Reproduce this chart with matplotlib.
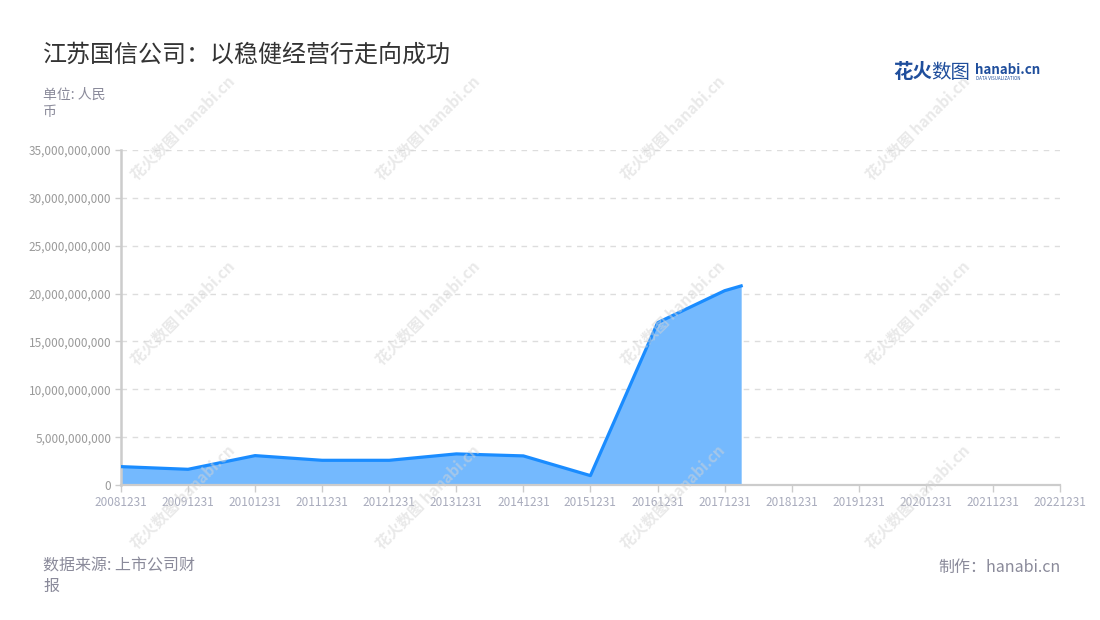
import matplotlib
matplotlib.use('Agg')
import matplotlib.pyplot as plt
import matplotlib.dates as mdates
import matplotlib.ticker as mticker
import pandas as pd

plt.rcParams['font.family'] = ['Noto Sans CJK SC', 'DejaVu Sans']

title = '江苏国信公司：以稳健经营行走向成功'
unit_label = '单位: 人民\n币'
source_label = '数据来源: 上市公司财\n报'
maker_label = '制作：hanabi.cn'

report_dates = ['20081231', '20091231', '20101231', '20111231', '20121231',
                '20131231', '20141231', '20151231', '20161231', '20171231',
                '20180331']
values = [1.92e9, 1.64e9, 3.07e9, 2.58e9, 2.58e9,
          3.25e9, 3.04e9, 0.98e9, 16.96e9, 20.3e9,
          20.8e9]
tick_dates = ['20081231', '20091231', '20101231', '20111231', '20121231',
              '20131231', '20141231', '20151231', '20161231', '20171231',
              '20181231', '20191231', '20201231', '20211231', '20221231']

x = pd.to_datetime(report_dates, format='%Y%m%d')
ticks = pd.to_datetime(tick_dates, format='%Y%m%d')

fig = plt.figure(figsize=(11, 6.2), dpi=100)
ax = fig.add_axes([121 / 1100, 1 - 485 / 620, (1060 - 121) / 1100, (485 - 150) / 620])

ax.fill_between(x, values, 0, color='#74b9fe', linewidth=0, zorder=2)
ax.plot(x, values, color='#1a8cff', linewidth=2.3, zorder=3, solid_joinstyle='round')

ax.set_xlim(ticks[0], ticks[-1])
ax.set_ylim(0, 35e9)
ax.set_xticks(ticks)
ax.xaxis.set_major_formatter(mdates.DateFormatter('%Y%m%d'))
ax.yaxis.set_major_locator(mticker.MultipleLocator(5e9))
ax.yaxis.set_major_formatter(mticker.FuncFormatter(lambda v, p: '{:,.0f}'.format(v)))

ax.grid(axis='y', color='#dddddd', linestyle=(0, (4, 4)), linewidth=1, zorder=0)
for s in ['top', 'right']:
    ax.spines[s].set_visible(False)
ax.spines['left'].set_color('#cccccc')
ax.spines['left'].set_linewidth(1.8)
ax.spines['bottom'].set_color('#cccccc')
ax.spines['bottom'].set_linewidth(1.6)
ax.tick_params(axis='y', colors='#cccccc', labelcolor='#9a9a9a', labelsize=8.5, length=4, width=1, pad=3)
ax.tick_params(axis='x', colors='#cccccc', labelcolor='#a8abbc', labelsize=8.5, length=5, width=1, pad=3)

# watermarks
for wy in [128, 313, 497]:
    for wx in [183, 428, 673, 918]:
        fig.text(wx / 1100, 1 - wy / 620, '花火数图 hanabi.cn', rotation=45,
                 ha='center', va='center', fontsize=11, color='#d4d4d4', alpha=0.5,
                 fontweight='bold', zorder=5)

fig.text(43 / 1100, 1 - 55 / 620, title, fontsize=17.3, color='#333333', va='center', ha='left')
fig.text(43 / 1100, 1 - 88 / 620, unit_label, fontsize=10, color='#8a8a9a', va='top', ha='left',
         linespacing=1.3)
fig.text(43 / 1100, 1 - 558 / 620, source_label, fontsize=11.5, color='#8a8a9a', va='top', ha='left',
         linespacing=1.2)
fig.text(1061 / 1100, 1 - 567 / 620, maker_label, fontsize=11.5, color='#8a8a9a', va='center', ha='right')

# logo
fig.text(893 / 1100, 1 - 72 / 620, '花火', fontsize=14, color='#1f4e9c', fontweight='bold',
         va='center', ha='left')
fig.text(931 / 1100, 1 - 72 / 620, '数图', fontsize=14, color='#1f4e9c',
         va='center', ha='left')
fig.text(975 / 1100, 1 - 70 / 620, 'hanabi.cn', fontsize=9.6, color='#1f4e9c', fontweight='bold',
         va='center', ha='left')
fig.text(976 / 1100, 1 - 79 / 620, 'DATA VISUALIZATION', fontsize=3.2, color='#1f4e9c',
         va='center', ha='left')

fig.savefig('out.png', dpi=100)
